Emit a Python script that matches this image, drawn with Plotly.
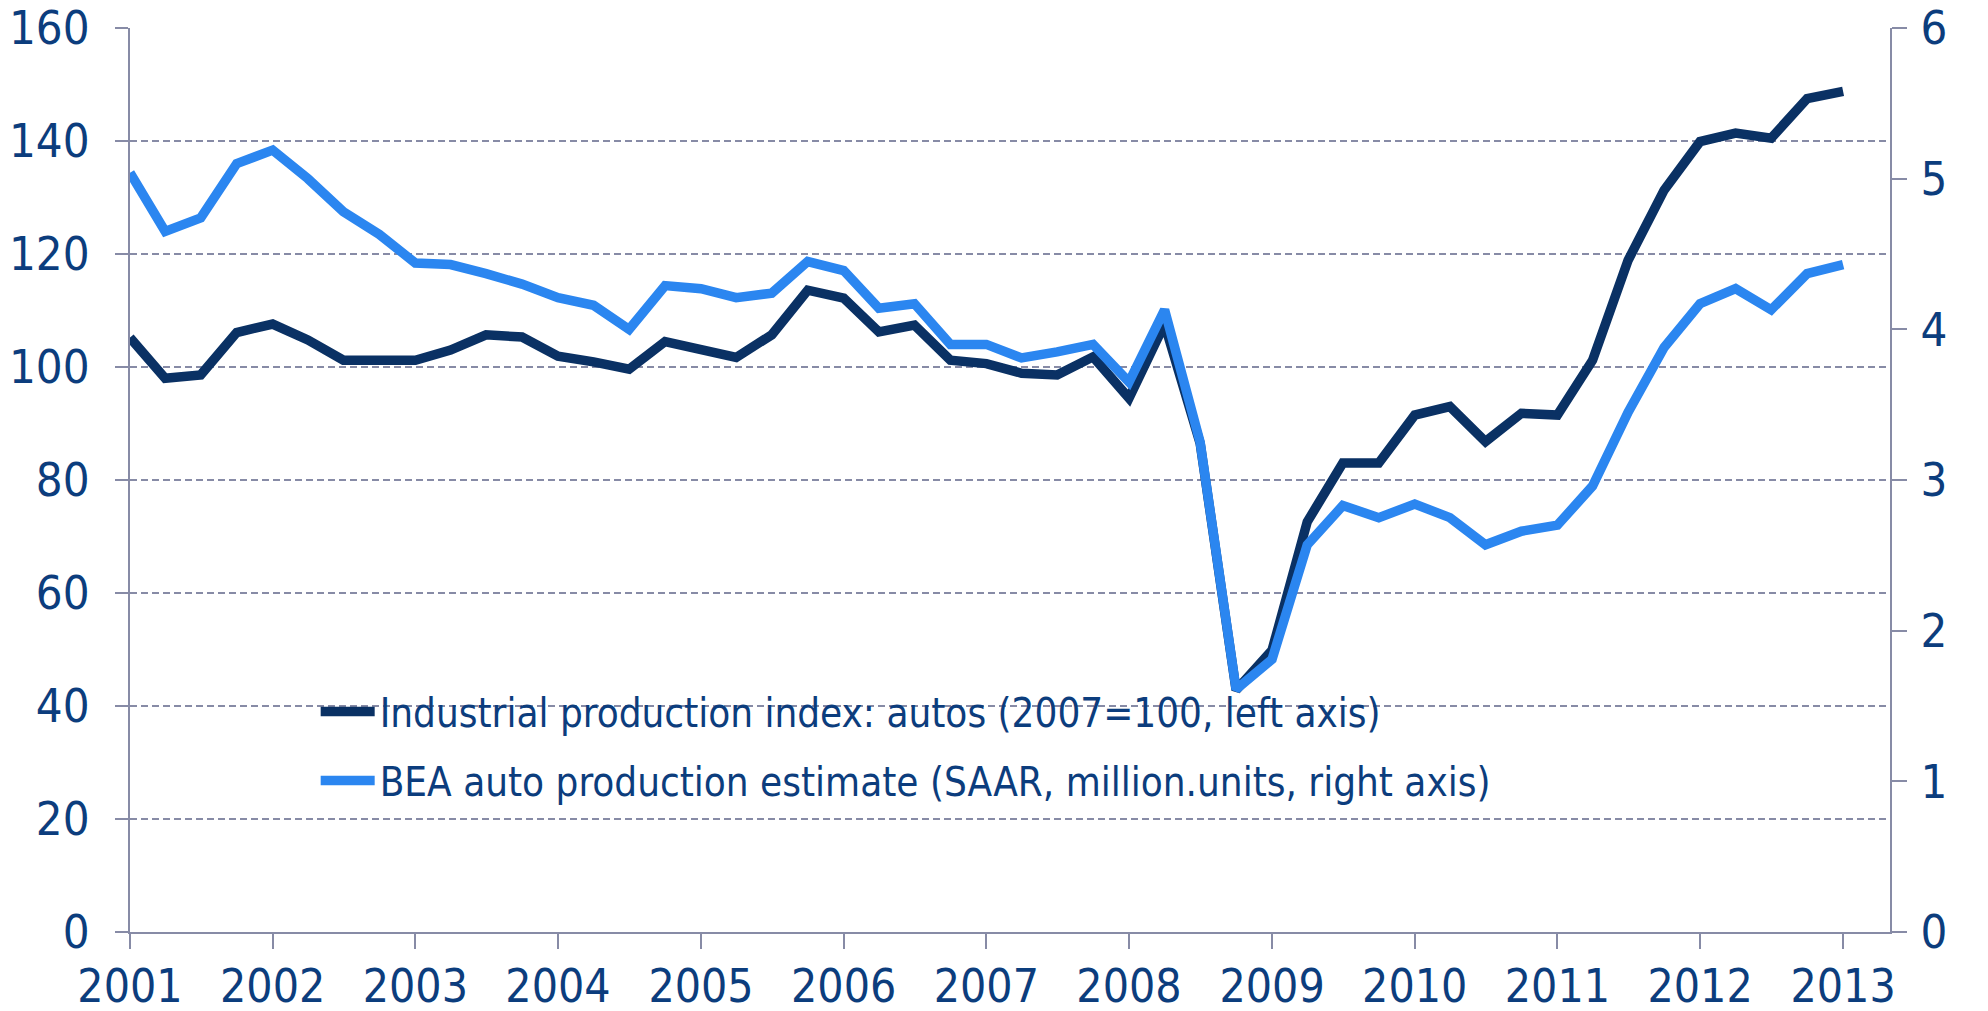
import plotly.graph_objects as go

# Quarterly observations, 2001Q1 .. 2013Q1
quarters = [f"{y}-{m:02d}-01" for y in range(2001, 2014) for m in (1, 4, 7, 10)][:49]

industrial_index = [
    105.2, 98.0, 98.6, 106.1, 107.6, 104.8, 101.2, 101.1,
    101.2, 103.0, 105.7, 105.3, 101.9, 100.9, 99.6, 104.5,
    103.3, 101.7, 105.7, 113.6, 112.2, 106.2, 107.4, 101.2,
    100.6, 98.9, 98.6, 101.8, 94.5, 107.6, 86.5, 42.8,
    49.9, 72.6, 83.0, 83.0, 91.5, 93.0, 86.8, 91.8,
    91.5, 101.2, 118.9, 131.3, 139.9, 141.4, 140.5, 147.5,
    148.8,
]

bea_estimate = [
    5.04, 4.65, 4.74, 5.10, 5.19, 5.00, 4.78, 4.63,
    4.44, 4.43, 4.37, 4.30, 4.21, 4.16, 4.00, 4.29,
    4.27, 4.21, 4.24, 4.45, 4.39, 4.14, 4.17, 3.90,
    3.90, 3.81, 3.85, 3.90, 3.65, 4.13, 3.25, 1.61,
    1.81, 2.57, 2.83, 2.75, 2.84, 2.75, 2.57, 2.66,
    2.70, 2.96, 3.45, 3.88, 4.17, 4.27, 4.13, 4.37,
    4.43,
]

year_ticks = [f"{y}-01-01" for y in range(2001, 2014)]
year_labels = [str(y) for y in range(2001, 2014)]
left_ticks = [0, 20, 40, 60, 80, 100, 120, 140, 160]
right_ticks = [0, 1, 2, 3, 4, 5, 6]

NAVY = "#0a3164"
BLUE = "#2b86f0"
TEXT = "#0c3d7d"
GRID = "#878ba6"
FONT = "Liberation Sans Narrow, DejaVu Sans Condensed, Roboto, sans-serif"

fig = go.Figure()
fig.add_trace(go.Scatter(
    x=quarters, y=industrial_index, mode="lines",
    name="Industrial production index: autos (2007=100, left axis)",
    line=dict(color=NAVY, width=9.5), legendgroup="a",
))
fig.add_trace(go.Scatter(
    x=quarters, y=bea_estimate, mode="lines", yaxis="y2",
    name="BEA auto production estimate (SAAR, million.units, right axis)",
    line=dict(color=BLUE, width=9.5), legendgroup="b",
))

# page body adds an 8px offset, so the figure is 8px smaller and margins shifted
fig.update_layout(
    width=1980, height=1003,
    margin=dict(l=122, r=98, t=20, b=79),
    plot_bgcolor="white", paper_bgcolor="white",
    font=dict(family=FONT, color=TEXT, size=46),
    showlegend=True,
    legend=dict(
        x=0.1055, y=0.28, xanchor="left", yanchor="top",
        font=dict(size=40, color=TEXT, family=FONT),
        bgcolor="rgba(0,0,0,0)", tracegroupgap=14,
        traceorder="grouped", itemwidth=54,
    ),
    xaxis=dict(
        type="date", range=["2001-01-01", "2013-05-01"],
        tickvals=year_ticks, ticktext=year_labels,
        showgrid=False, zeroline=False, automargin=False,
        showline=True, linecolor=GRID, linewidth=2,
        ticks="outside", ticklen=15, tickwidth=2, tickcolor=GRID,
        tickfont=dict(size=46, color=TEXT),
        ticklabelstandoff=-2, ticklabeloverflow="allow",
    ),
    yaxis=dict(
        range=[0, 160], tickvals=left_ticks, automargin=False,
        showgrid=True, gridcolor=GRID, griddash="7px,4px", gridwidth=2,
        zeroline=False, showline=True, linecolor=GRID, linewidth=2,
        ticks="outside", ticklen=13, tickwidth=2, tickcolor=GRID,
        tickfont=dict(size=47, color=TEXT),
        ticklabelstandoff=16, ticklabeloverflow="allow",
    ),
    yaxis2=dict(
        range=[0, 6], tickvals=right_ticks, overlaying="y", side="right",
        automargin=False,
        showgrid=False, zeroline=False, showline=True, linecolor=GRID, linewidth=2,
        ticks="outside", ticklen=15, tickwidth=2, tickcolor=GRID,
        tickfont=dict(size=47, color=TEXT),
        ticklabelstandoff=4, ticklabeloverflow="allow",
    ),
)

fig.write_html("out.html")
